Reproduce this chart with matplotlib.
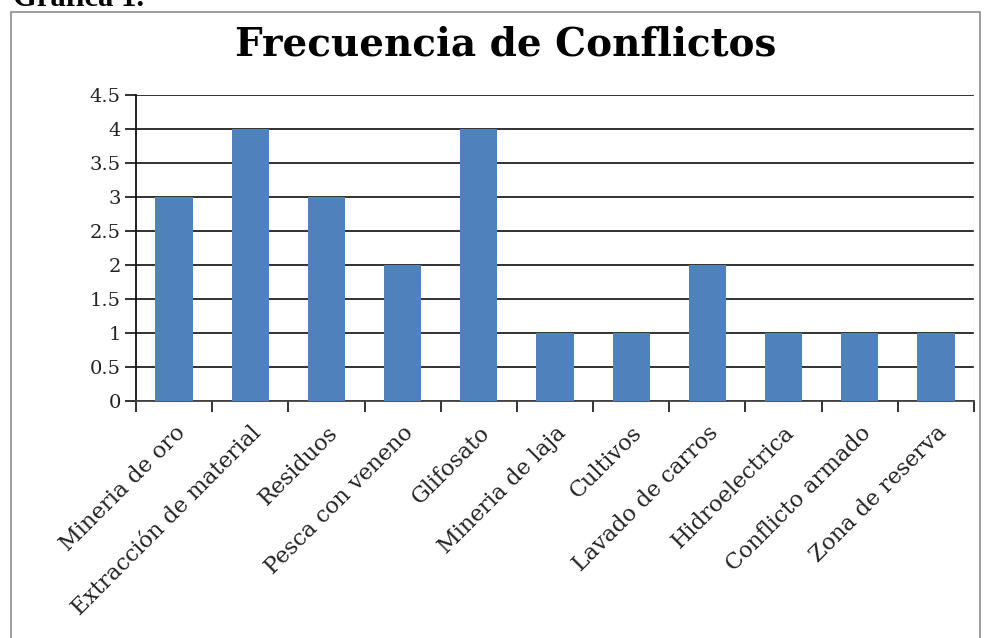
import matplotlib
matplotlib.use("Agg")
import matplotlib.pyplot as plt
from matplotlib.patches import Rectangle

categories = ["Mineria de oro", "Extracción de material", "Residuos", "Pesca con veneno",
              "Glifosato", "Mineria de laja", "Cultivos", "Lavado de carros",
              "Hidroelectrica", "Conflicto armado", "Zona de reserva"]
values = [3, 4, 3, 2, 4, 1, 1, 2, 1, 1, 1]
yticks = [0, 0.5, 1, 1.5, 2, 2.5, 3, 3.5, 4, 4.5]
ytick_labels = ["0", "0.5", "1", "1.5", "2", "2.5", "3", "3.5", "4", "4.5"]

W, H = 987, 638
fig = plt.figure(figsize=(W/100, H/100), dpi=100)
fig.patch.set_facecolor("white")

# outer chart border
fig.patches.append(Rectangle((11/W, -0.05), (980-11)/W, 1.05 - 12/H, transform=fig.transFigure,
                             fill=False, edgecolor="#8c8c8c", linewidth=1.2))

fig.text(13/W, 1 - 6/H, "Gráfica 1.", fontsize=22, fontweight="bold",
         family="Liberation Serif", va="baseline", ha="left")

ax = fig.add_axes([136/W, 1 - 401/H, (974-136)/W, (401-95)/H])
x = list(range(len(categories)))
ax.bar(x, values, width=0.49, color="#4f81bd", zorder=3)
ax.set_xlim(-0.5, len(categories) - 0.5)
ax.set_ylim(0, 4.5)
ax.set_yticks(yticks)
ax.set_yticklabels(ytick_labels, family="DejaVu Serif", fontsize=14, color="#222222")
ax.yaxis.grid(True, color="#222222", linewidth=1.3, zorder=0)
ax.set_axisbelow(True)

ax.set_xticks([i - 0.5 for i in range(len(categories) + 1)], minor=False)
ax.set_xticklabels([])
ax.set_xticks(x, minor=True)
ax.set_xticklabels(categories, minor=True, rotation=45, ha="right", rotation_mode="anchor",
                   family="DejaVu Serif", fontsize=16, color="#222222")
ax.tick_params(axis="x", which="minor", length=0, pad=15)
ax.tick_params(axis="x", which="major", length=8, direction="out", width=1.3, color="#222222")
ax.tick_params(axis="y", length=8, direction="out", width=1.3, color="#222222", pad=3)

for s in ["top", "right"]:
    ax.spines[s].set_visible(False)
ax.spines["left"].set_color("#111111")
ax.spines["left"].set_linewidth(1.3)
ax.spines["bottom"].set_color("#444444")
ax.spines["bottom"].set_linewidth(1.3)
ax.axvline(len(categories) - 0.5, color="#dddddd", linewidth=1, zorder=1)

fig.text(506/W, 1 - 45/H, "Frecuencia de Conflictos", fontsize=28, fontweight="bold",
         family="DejaVu Serif", ha="center", va="center")

fig.savefig("out.png", dpi=100, facecolor="white")
